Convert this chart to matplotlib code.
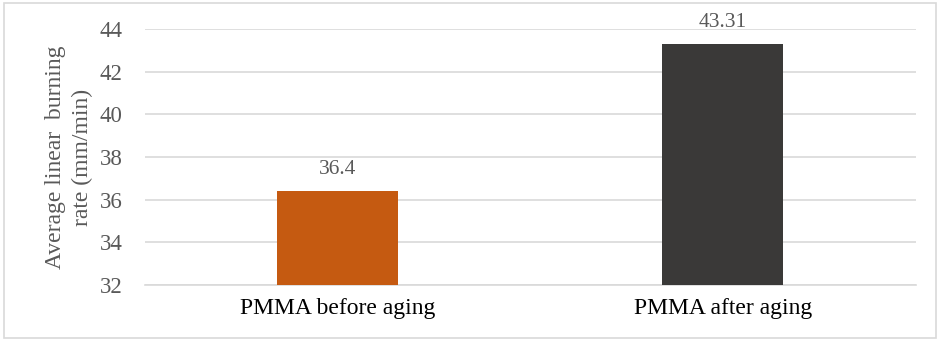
import matplotlib
matplotlib.use('Agg')
import matplotlib.pyplot as plt
from matplotlib.patches import Rectangle

# burning rate of PMMA samples
samples = ['PMMA before aging', 'PMMA after aging']
rates = [36.4, 43.31]
rate_labels = ['36.4', '43.31']
bar_colors = ['#C55A11', '#3A3938']
yticks = [32, 34, 36, 38, 40, 42, 44]

plt.rcParams['font.family'] = ['Liberation Serif', 'DejaVu Serif']

fig = plt.figure(figsize=(9.41, 3.44), dpi=100)
ax = fig.add_axes([0.154, 0.1715, 0.819, 0.7445])

# light frame round the whole chart
fig.patches.append(Rectangle((0.004, 0.017), 0.991, 0.974, transform=fig.transFigure,
                             fill=False, edgecolor='#D9D9D9', linewidth=1.2))

x = range(len(samples))
bars = ax.bar(x, rates, width=0.314, color=bar_colors, zorder=3)
for xi, r, lab in zip(x, rates, rate_labels):
    ax.annotate(lab, (xi, r), xytext=(0, 12), textcoords='offset points',
                ha='center', va='baseline', fontsize=15.5, color='#595959')

ax.set_xlim(-0.5, 1.5)
ax.set_ylim(32, 44)
ax.set_yticks(yticks)
ax.set_yticklabels([str(t) for t in yticks], fontsize=16.5, color='#595959')
ax.set_xticks(list(x))
ax.set_xticklabels(samples, fontsize=17, color='black')
ax.tick_params(axis='both', length=0)
ax.tick_params(axis='x', pad=9)
ax.tick_params(axis='y', pad=16)

ax.yaxis.grid(True, color='#D9D9D9', linewidth=1.2, zorder=0)
for s in ['top', 'right', 'left']:
    ax.spines[s].set_visible(False)
ax.spines['bottom'].set_color('#D9D9D9')
ax.spines['bottom'].set_linewidth(1.2)

ax.set_ylabel('Average linear  burning\nrate (mm/min)', fontsize=17, color='#595959',
              linespacing=1.4)
ax.yaxis.set_label_coords(-0.067, 0.5)

fig.savefig('out.png', dpi=100)
